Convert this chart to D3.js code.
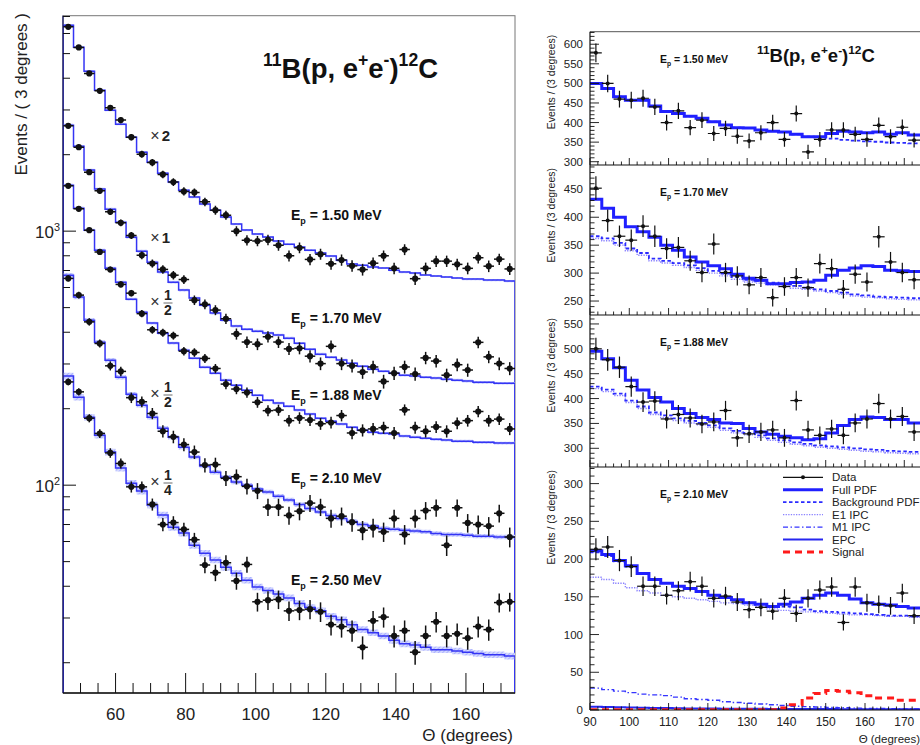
<!DOCTYPE html>
<html>
<head>
<meta charset="utf-8">
<script src="https://cdn.jsdelivr.net/npm/d3@7"></script>
<style>
  body { margin: 0; background: #fff; }
  svg { font-family: "Liberation Sans", Arial, Helvetica, sans-serif; }
  text { white-space: pre; }
</style>
</head>
<body>
<script>
// theta bins, 3 degrees wide, 45..174
var thetaCenters = [46.5, 49.5, 52.5, 55.5, 58.5, 61.5, 64.5, 67.5, 70.5, 73.5,
  76.5, 79.5, 82.5, 85.5, 88.5, 91.5, 94.5, 97.5, 100.5, 103.5,
  106.5, 109.5, 112.5, 115.5, 118.5, 121.5, 124.5, 127.5, 130.5, 133.5,
  136.5, 139.5, 142.5, 145.5, 148.5, 151.5, 154.5, 157.5, 160.5, 163.5,
  166.5, 169.5, 172.5];
var binHalf = 1.5;

var energies = ["1.50", "1.70", "1.88", "2.10", "2.50"];
var scaleFactors = [2, 1, 0.5, 0.5, 0.25];
var scaleNum = ["2", "1", "1", "1", "1"];
var scaleDen = ["", "", "2", "2", "4"];

// measured events per bin (unscaled)
var counts150 = [3186, 2644, 2089, 1784, 1529, 1368, 1172, 1005, 932, 836,
  780, 717, 710, 652, 605, 578, 500, 460, 457, 462,
  440, 400, 430, 387, 406, 372, 385, 365, 353, 374,
  400, 357, 423, 325, 357, 381, 381, 370, 357, 393,
  364, 388, 355];
var counts170 = [2598, 2141, 1707, 1441, 1191, 1078, 962, 804, 746, 707,
  671, 645, 535, 515, 489, 452, 394, 366, 359, 384,
  366, 344, 346, 322, 301, 352, 301, 295, 279, 292,
  256, 276, 292, 274, 317, 308, 271, 298, 284, 365,
  320, 301, 288];
var counts188 = [3016, 2448, 2018, 1657, 1413, 1234, 1140, 947, 818, 797,
  776, 674, 666, 631, 576, 500, 478, 463, 424, 393,
  395, 359, 368, 361, 349, 353, 376, 321, 329, 333,
  337, 321, 396, 337, 326, 339, 326, 351, 359, 390,
  359, 364, 333];
var counts210 = [1303, 1120, 879, 723, 590, 561, 442, 426, 383, 326,
  310, 289, 270, 240, 241, 213, 216, 198, 190, 164,
  164, 152, 158, 170, 164, 148, 151, 143, 133, 136,
  131, 148, 128, 148, 159, 163, 116, 163, 142, 140,
  138, 155, 125];
var counts250 = [1020, 932, 734, 639, 536, 487, 394, 394, 336, 280,
  285, 268, 244, 194, 181, 198, 168, 195, 139, 141,
  142, 128, 129, 130, 127, 113, 111, 107, 92, 117,
  121, 102, 107, 88, 102, 116, 102, 104, 100, 111,
  108, 138, 139];

// simulated distributions for the left plot (unscaled)
var model150 = [3236, 2651, 2132, 1795, 1497, 1319, 1172, 1023, 934, 846,
  780, 725, 681, 639, 605, 568, 533, 505, 487, 474,
  457, 444, 433, 421, 410, 399, 384, 371, 367, 361,
  358, 351, 345, 342, 336, 333, 330, 327, 324, 324,
  321, 321, 318];
var model170 = [2614, 2160, 1739, 1464, 1221, 1085, 947, 834, 755, 690,
  630, 586, 545, 511, 476, 446, 423, 411, 404, 397,
  390, 379, 362, 343, 328, 319, 311, 302, 294, 286,
  281, 276, 271, 269, 266, 264, 261, 259, 257, 254,
  254, 252, 252];
var model188 = [3035, 2464, 2018, 1684, 1430, 1260, 1080, 960, 869, 793,
  725, 680, 632, 583, 552, 518, 495, 473, 452, 432,
  421, 409, 395, 381, 367, 357, 348, 338, 329, 323,
  320, 318, 312, 309, 306, 303, 301, 298, 298, 295,
  295, 293, 293];
var model210 = [1342, 1100, 892, 731, 621, 532, 456, 413, 370, 335,
  309, 282, 258, 238, 225, 215, 206, 200, 193, 188,
  181, 175, 168, 162, 157, 152, 148, 144, 140, 138,
  135, 134, 133, 132, 131, 129, 128, 128, 127, 126,
  126, 125, 125];
var model250 = [1075, 888, 741, 629, 540, 467, 407, 379, 334, 305,
  273, 259, 232, 216, 203, 190, 180, 169, 159, 154,
  149, 144, 137, 132, 128, 122, 118, 113, 108, 105,
  102, 98, 95, 94, 92, 90, 90, 89, 88, 87,
  86, 86, 85];
var modelRelErr = [0.01, 0.012, 0.012, 0.02, 0.03];

// fit components for the right plots, bins 90..174
var full150 = [500, 487, 466, 457, 457, 442, 428, 423, 416, 411, 402, 394, 387, 386, 381, 378, 376, 370, 364, 364, 372, 378, 376, 374, 376, 370, 374, 368];
var bkg150 = [500, 487, 466, 457, 457, 442, 428, 423, 416, 411, 402, 394, 387, 386, 381, 378, 376, 370, 364, 362, 359, 356, 354, 352, 351, 349, 348, 347];
var full170 = [432, 416, 400, 383, 374, 364, 350, 341, 329, 320, 313, 308, 298, 291, 287, 281, 281, 283, 284, 287, 296, 305, 309, 313, 312, 305, 304, 303];
var bkg170 = [366, 362, 354, 344, 336, 326, 322, 318, 314, 309, 304, 299, 293, 288, 286, 283, 280, 277, 274, 271, 268, 265, 262, 260, 258, 257, 256, 255];
var e1_170 = [362, 358, 350, 340, 332, 322, 318, 314, 310, 305, 300, 295, 289, 284, 282, 279, 276, 273, 271, 268, 265, 262, 259, 257, 256, 254, 253, 252];
var full188 = [495, 480, 462, 437, 417, 402, 393, 380, 370, 362, 358, 351, 350, 340, 333, 328, 324, 321, 317, 319, 331, 346, 358, 363, 362, 358, 358, 351];
var bkg188 = [424, 418, 410, 396, 384, 372, 366, 360, 355, 351, 346, 340, 335, 331, 326, 320, 316, 312, 309, 306, 304, 302, 300, 298, 297, 295, 294, 293];
var e1_188 = [420, 414, 406, 392, 380, 368, 362, 356, 351, 347, 342, 336, 331, 327, 322, 316, 312, 308, 305, 302, 300, 298, 296, 294, 293, 291, 290, 289];
var full210 = [211, 206, 198, 191, 181, 173, 168, 164, 161, 157, 152, 149, 146, 142, 140, 137, 140, 143, 148, 152, 155, 152, 147, 142, 140, 139, 137, 135];
var bkg210 = [209, 204, 197, 190, 181, 173, 168, 164, 161, 157, 152, 149, 146, 142, 140, 137, 137, 136, 133, 131, 130, 129, 128, 127, 126, 125, 125, 124];
var e1_210 = [176, 173, 168, 162, 158, 155, 152, 150, 148, 146, 144, 142, 141, 139, 137, 134, 132, 131, 130, 129, 128, 127, 126, 126, 125, 124, 124, 123];
var m1_210 = [29, 27, 25, 23, 21, 20, 19, 17, 15, 14, 13, 11, 10, 9, 8, 7, 6, 5, 4.5, 4, 3.5, 3, 2.5, 2.2, 2, 1.7, 1.5, 1.3];
var epc_210 = [4.4, 4, 3.5, 3.2, 3, 2.7, 2.5, 2.3, 2.1, 2, 1.9, 1.8, 1.7, 1.6, 1.5, 1.4, 1.4, 1.3, 1.3, 1.2, 1.2, 1.1, 1.1, 1.1, 1, 1, 1, 1];
var signal210 = [0.3, 0.3, 0.3, 0.3, 0.3, 0.3, 0.3, 0.3, 0.3, 0.3, 0.3, 0.3, 0.3, 0.3, 0.3, 0.3, 2.5, 7, 16, 22, 26, 25, 23, 19, 16, 16, 13, 13];

var counts = [counts150, counts170, counts188, counts210, counts250];
var models = [model150, model170, model188, model210, model250];

var svg = d3.select("body").append("svg").attr("width", 920).attr("height", 745);
var defs = svg.append("defs");
var blue = "#3434f4";

// text with super/subscripts
function rich(t, parts, size) {
  var cur = 0;
  parts.forEach(function(p) {
    var shift = p.sup ? -0.42 * size : (p.sub ? 0.3 * size : 0);
    t.append("tspan")
      .attr("dy", (shift - cur).toFixed(2))
      .attr("font-size", (p.sup || p.sub) ? size * 0.64 : size)
      .text(p.t);
    cur = shift;
  });
}
var titleParts = [{t: "11", sup: 1}, {t: "B(p, e"}, {t: "+", sup: 1}, {t: "e"}, {t: "-", sup: 1}, {t: ")"}, {t: "12", sup: 1}, {t: "C"}];
function epParts(e) { return [{t: "E"}, {t: "p", sub: 1}, {t: " = " + e + " MeV"}]; }

// step points for a per-bin array
function stepPts(vals, thetas, xs, ys) {
  var pts = vals.map(function(v, i) { return [xs(thetas[i] - binHalf), ys(v)]; });
  var n = vals.length - 1;
  pts.push([xs(thetas[n] + binHalf), ys(vals[n])]);
  return pts;
}
var stepLine = d3.line().curve(d3.curveStepAfter);

// hatch for the simulation error band
var hatch = defs.append("pattern").attr("id", "hatch").attr("patternUnits", "userSpaceOnUse")
  .attr("width", 3).attr("height", 3).attr("patternTransform", "rotate(45)");
hatch.append("rect").attr("width", 3).attr("height", 3).attr("fill", "#d4d8ff");
hatch.append("line").attr("x1", 0).attr("x2", 0).attr("y1", 0).attr("y2", 3)
  .attr("stroke", "#8f98ff").attr("stroke-width", 1.2);

// ================= left plot =================
var L = {left: 63, right: 515, top: 15.7, bottom: 693};
var x = d3.scaleLinear().domain([45, 174]).range([L.left, L.right]);
var y = d3.scaleLog().domain([15.2, 7050]).range([L.bottom, L.top]);

defs.append("clipPath").attr("id", "clipL").append("rect")
  .attr("x", L.left).attr("y", L.top)
  .attr("width", L.right - L.left).attr("height", L.bottom - L.top);

svg.append("rect")
  .attr("x", L.left).attr("y", L.top)
  .attr("width", L.right - L.left).attr("height", L.bottom - L.top)
  .attr("fill", "none").attr("stroke", "#777").attr("stroke-width", 1);

var plotL = svg.append("g").attr("clip-path", "url(#clipL)");
var bandArea = d3.area().curve(d3.curveStepAfter)
  .x(function(d) { return d[0]; }).y0(function(d) { return d[1]; }).y1(function(d) { return d[2]; });

models.forEach(function(m, k) {
  var s = scaleFactors[k], f = modelRelErr[k];
  var band = m.map(function(v, i) {
    return [x(thetaCenters[i] - binHalf), y(v * s * (1 - f)), y(v * s * (1 + f))];
  });
  var n = m.length - 1;
  band.push([x(thetaCenters[n] + binHalf), y(m[n] * s * (1 - f)), y(m[n] * s * (1 + f))]);
  plotL.append("path").attr("d", bandArea(band)).attr("fill", "url(#hatch)");

  var pts = stepPts(m.map(function(v) { return v * s; }), thetaCenters, x, y);
  pts.unshift([x(thetaCenters[0] - binHalf), L.bottom + 2]);
  pts.push([x(thetaCenters[n] + binHalf), L.bottom + 2]);
  plotL.append("path").attr("d", stepLine(pts))
    .attr("fill", "none").attr("stroke", blue).attr("stroke-width", 1.5);
});

counts.forEach(function(c, k) {
  var s = scaleFactors[k];
  var g = plotL.append("g");
  c.forEach(function(v, i) {
    var val = v * s, err = Math.sqrt(v) * s, t = thetaCenters[i];
    g.append("line").attr("x1", x(t)).attr("x2", x(t))
      .attr("y1", y(val - err)).attr("y2", y(val + err))
      .attr("stroke", "#111").attr("stroke-width", 1.5);
    g.append("line").attr("x1", x(t - binHalf)).attr("x2", x(t + binHalf))
      .attr("y1", y(val)).attr("y2", y(val))
      .attr("stroke", "#111").attr("stroke-width", 1.5);
    g.append("circle").attr("cx", x(t)).attr("cy", y(val)).attr("r", 3.1).attr("fill", "#111");
  });
});

// left axes
svg.append("line").attr("x1", L.left).attr("x2", L.left).attr("y1", L.top).attr("y2", L.bottom)
  .attr("stroke", "#1a1a66").attr("stroke-width", 1.3);
svg.append("line").attr("x1", L.left).attr("x2", L.right).attr("y1", L.bottom).attr("y2", L.bottom)
  .attr("stroke", "#111").attr("stroke-width", 1.3);

var xMajor = [60, 80, 100, 120, 140, 160];
d3.range(50, 174, 5).forEach(function(t) {
  var major = xMajor.indexOf(t) >= 0;
  svg.append("line").attr("x1", x(t)).attr("x2", x(t))
    .attr("y1", L.bottom).attr("y2", L.bottom - (major ? 20 : 10))
    .attr("stroke", "#111").attr("stroke-width", 1);
});
xMajor.forEach(function(t) {
  svg.append("text").attr("x", x(t)).attr("y", 720).attr("text-anchor", "middle")
    .attr("font-size", 17).attr("fill", "#222").text(t);
});
svg.append("text").attr("x", 513).attr("y", 741).attr("text-anchor", "end")
  .attr("font-size", 17).attr("fill", "#222").text("\u0398 (degrees)");

var yMinor = [];
[10, 100, 1000].forEach(function(dec) {
  d3.range(2, 10).forEach(function(d) { yMinor.push(d * dec); });
});
yMinor.filter(function(v) { return v > 15.2 && v < 7050; }).forEach(function(v) {
  svg.append("line").attr("x1", L.left).attr("x2", L.left + 7)
    .attr("y1", y(v)).attr("y2", y(v)).attr("stroke", "#111").attr("stroke-width", 1);
});
[[100, "2"], [1000, "3"]].forEach(function(d) {
  svg.append("line").attr("x1", L.left).attr("x2", L.left + 13)
    .attr("y1", y(d[0])).attr("y2", y(d[0])).attr("stroke", "#111").attr("stroke-width", 1);
  var t = svg.append("text").attr("x", 60).attr("y", y(d[0]) + 7)
    .attr("text-anchor", "end").attr("fill", "#222");
  rich(t, [{t: "10"}, {t: d[1], sup: 1}], 17);
});
svg.append("text").attr("transform", "translate(27,13) rotate(-90)")
  .attr("text-anchor", "end").attr("font-size", 17).attr("fill", "#222")
  .text("Events / ( 3 degrees )");

// title and labels
var tl = svg.append("text").attr("x", 263).attr("y", 78)
  .attr("font-weight", "bold").attr("fill", "#111");
rich(tl, titleParts, 27.5);

var epY = [220, 323, 400, 483, 585];
energies.forEach(function(e, k) {
  var t = svg.append("text").attr("x", 291).attr("y", epY[k])
    .attr("font-weight", "bold").attr("fill", "#111");
  rich(t, epParts(e), 14);
});

var scaleY = [136, 238, 302, 394, 482];
scaleFactors.forEach(function(s, k) {
  var cy = scaleY[k];
  svg.append("text").attr("x", 155).attr("y", cy + 5).attr("text-anchor", "middle")
    .attr("font-size", 16).attr("fill", "#333").text("\u00d7");
  if (!scaleDen[k]) {
    svg.append("text").attr("x", 166).attr("y", cy + 5).attr("text-anchor", "middle")
      .attr("font-size", 15).attr("font-weight", "bold").attr("fill", "#222").text(scaleNum[k]);
  } else {
    svg.append("text").attr("x", 168).attr("y", cy - 2).attr("text-anchor", "middle")
      .attr("font-size", 14).attr("font-weight", "bold").attr("fill", "#222").text(scaleNum[k]);
    svg.append("line").attr("x1", 163.5).attr("x2", 172.5).attr("y1", cy + 1).attr("y2", cy + 1)
      .attr("stroke", "#444").attr("stroke-width", 0.8);
    svg.append("text").attr("x", 168).attr("y", cy + 13).attr("text-anchor", "middle")
      .attr("font-size", 14).attr("font-weight", "bold").attr("fill", "#222").text(scaleDen[k]);
  }
});

// ================= right plots =================
var rx = d3.scaleLinear().domain([90, 174]).range([590, 920]);
var rThetas = thetaCenters.slice(15);
var curveStyles = {
  e1: {stroke: "#8a82ff", width: 1.4, dash: "1.3,1.3"},
  m1: {stroke: "#3434ff", width: 1.4, dash: "5,2.5,1.5,2.5"},
  epc: {stroke: "#2626f0", width: 2, dash: null},
  bkg: {stroke: "#2b2bff", width: 1.8, dash: "3.5,2.5"},
  signal: {stroke: "#ff1a1a", width: 3, dash: "7,5"},
  full: {stroke: "#2020ff", width: 3, dash: null}
};
var drawOrder = ["e1", "m1", "epc", "bkg", "signal", "full"];
var rPanels = [
  {k: 0, top: 31.7, bottom: 165, dom: [291.6, 632], curves: {full: full150, bkg: bkg150}},
  {k: 1, top: 165, bottom: 315, dom: [225, 493.5], curves: {full: full170, bkg: bkg170, e1: e1_170}},
  {k: 2, top: 315, bottom: 467, dom: [262.4, 568], curves: {full: full188, bkg: bkg188, e1: e1_188}},
  {k: 3, top: 467, bottom: 710, dom: [0, 322], curves: {full: full210, bkg: bkg210, e1: e1_210, m1: m1_210, epc: epc_210, signal: signal210}}
];

svg.append("line").attr("x1", 590).attr("x2", 920).attr("y1", 31.7).attr("y2", 31.7)
  .attr("stroke", "#555").attr("stroke-width", 1);

rPanels.forEach(function(p, idx) {
  var ry = d3.scaleLinear().domain(p.dom).range([p.bottom, p.top]);
  var cid = "clipR" + idx;
  defs.append("clipPath").attr("id", cid).append("rect")
    .attr("x", 590).attr("y", p.top).attr("width", 330).attr("height", p.bottom - p.top);
  var g = svg.append("g").attr("clip-path", "url(#" + cid + ")");

  drawOrder.forEach(function(name) {
    var vals = p.curves[name];
    if (!vals) return;
    var st = curveStyles[name];
    g.append("path").attr("d", stepLine(stepPts(vals, rThetas, rx, ry)))
      .attr("fill", "none").attr("stroke", st.stroke).attr("stroke-width", st.width)
      .attr("stroke-dasharray", st.dash);
  });

  counts[p.k].slice(15).forEach(function(v, i) {
    var t = rThetas[i], err = Math.sqrt(v);
    g.append("line").attr("x1", rx(t)).attr("x2", rx(t))
      .attr("y1", ry(v - err)).attr("y2", ry(v + err))
      .attr("stroke", "#111").attr("stroke-width", 1.2);
    g.append("line").attr("x1", rx(t - binHalf)).attr("x2", rx(t + binHalf))
      .attr("y1", ry(v)).attr("y2", ry(v))
      .attr("stroke", "#111").attr("stroke-width", 1.2);
    g.append("circle").attr("cx", rx(t)).attr("cy", ry(v)).attr("r", 2).attr("fill", "#111");
  });

  // axes
  svg.append("line").attr("x1", 590).attr("x2", 590).attr("y1", p.top).attr("y2", p.bottom)
    .attr("stroke", "#111").attr("stroke-width", 1.2);
  svg.append("line").attr("x1", 590).attr("x2", 920).attr("y1", p.bottom).attr("y2", p.bottom)
    .attr("stroke", "#111").attr("stroke-width", 1.2);
  d3.range(90, 174, 2).forEach(function(t) {
    var major = t % 10 === 0;
    svg.append("line").attr("x1", rx(t)).attr("x2", rx(t))
      .attr("y1", p.bottom).attr("y2", p.bottom - (major ? 7 : 3.5))
      .attr("stroke", "#111").attr("stroke-width", 0.9);
  });
  d3.range(Math.ceil(p.dom[0] / 10) * 10, p.dom[1], 10).forEach(function(v) {
    var major = v % 50 === 0;
    svg.append("line").attr("x1", 590).attr("x2", 590 + (major ? 9 : 4.5))
      .attr("y1", ry(v)).attr("y2", ry(v)).attr("stroke", "#111").attr("stroke-width", 0.9);
    if (major) {
      svg.append("text").attr("x", 583).attr("y", ry(v) + 4).attr("text-anchor", "end")
        .attr("font-size", 11.5).attr("fill", "#222").text(v);
    }
  });
  svg.append("text").attr("transform", "translate(555," + (p.top + 3) + ") rotate(-90)")
    .attr("text-anchor", "end").attr("font-size", 10.5).attr("fill", "#222")
    .text("Events / (3 degrees)");

  var ep = svg.append("text").attr("x", 660).attr("y", p.top + 31)
    .attr("font-weight", "bold").attr("fill", "#111");
  rich(ep, epParts(energies[p.k]), 10.5);
});

d3.range(90, 174, 10).forEach(function(t) {
  svg.append("text").attr("x", rx(t)).attr("y", 726).attr("text-anchor", "middle")
    .attr("font-size", 12).attr("fill", "#222").text(t);
});
svg.append("text").attr("x", 920).attr("y", 743).attr("text-anchor", "end")
  .attr("font-size", 11.5).attr("fill", "#222").text("\u0398 (degrees)");

var tr = svg.append("text").attr("x", 757).attr("y", 62)
  .attr("font-weight", "bold").attr("fill", "#111");
rich(tr, titleParts, 18.5);

// legend
var legendItems = [
  {name: "Data", key: "data"},
  {name: "Full PDF", key: "full"},
  {name: "Background PDF", key: "bkg"},
  {name: "E1 IPC", key: "e1"},
  {name: "M1 IPC", key: "m1"},
  {name: "EPC", key: "epc"},
  {name: "Signal", key: "signal"}
];
legendItems.forEach(function(d, i) {
  var ly = 477.3 + i * 12.45;
  if (d.key === "data") {
    svg.append("line").attr("x1", 783).attr("x2", 823).attr("y1", ly).attr("y2", ly)
      .attr("stroke", "#111").attr("stroke-width", 1.2);
    svg.append("circle").attr("cx", 803).attr("cy", ly).attr("r", 2).attr("fill", "#111");
  } else {
    var st = curveStyles[d.key];
    svg.append("line").attr("x1", 783).attr("x2", 823).attr("y1", ly).attr("y2", ly)
      .attr("stroke", st.stroke).attr("stroke-width", st.width).attr("stroke-dasharray", st.dash);
  }
  svg.append("text").attr("x", 832).attr("y", ly + 4).attr("font-size", 11.5)
    .attr("fill", "#222").text(d.name);
});
</script>
</body>
</html>
